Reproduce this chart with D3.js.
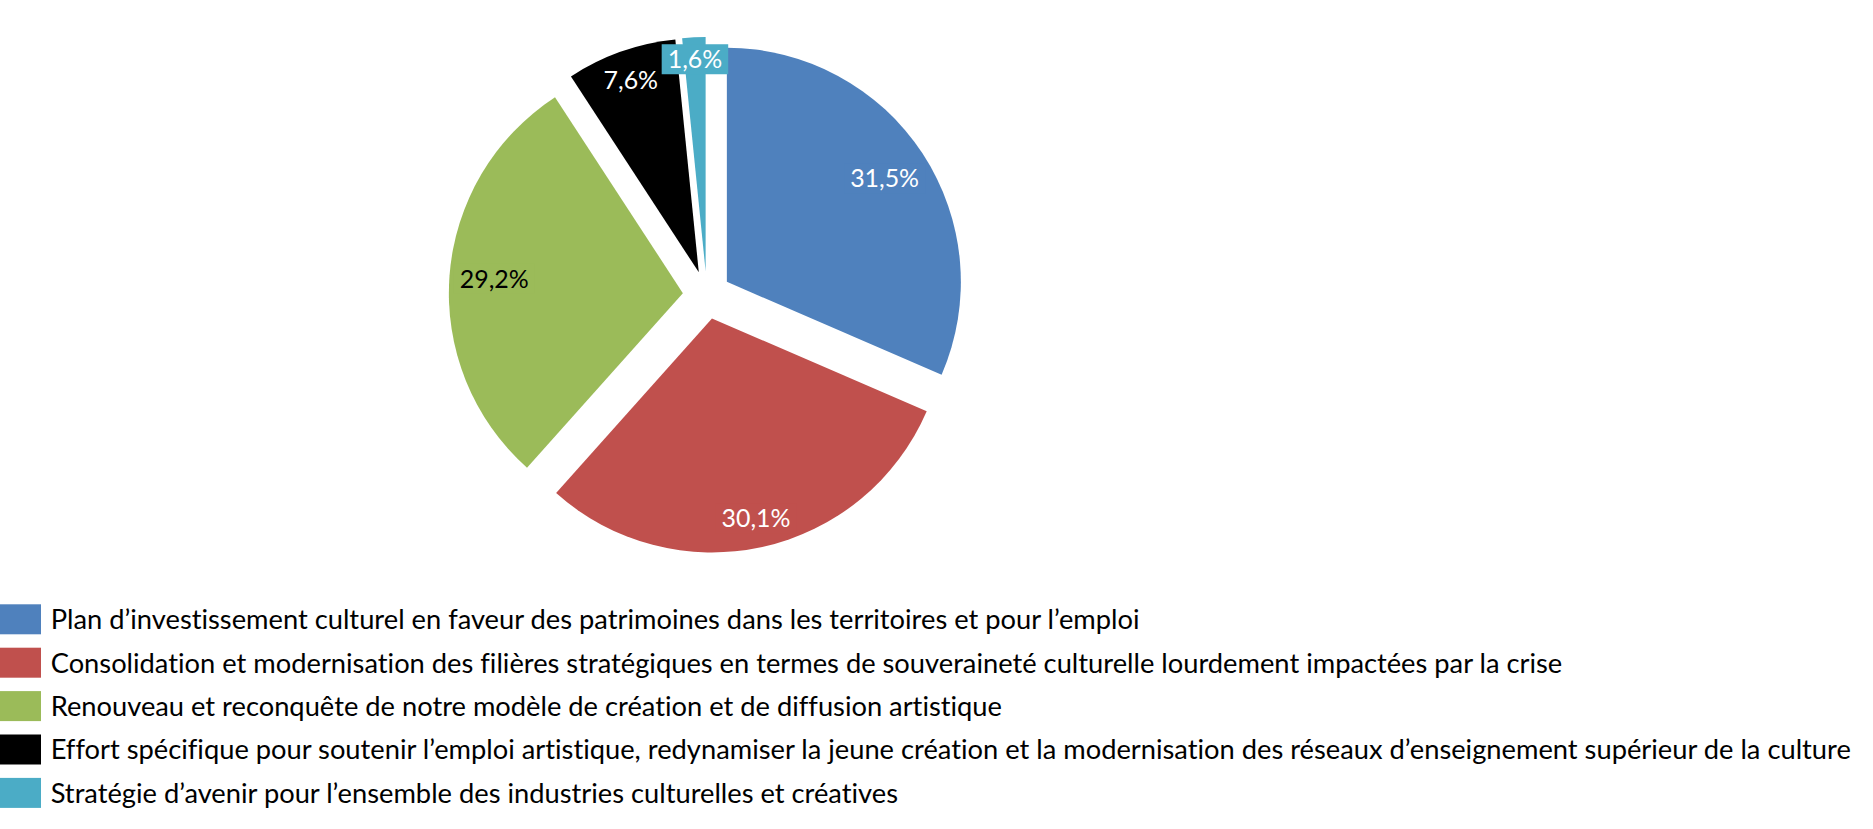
<!DOCTYPE html>
<html><head><meta charset="utf-8">
<script src="https://cdn.jsdelivr.net/npm/d3@7"></script>
<style>html,body{margin:0;padding:0;background:#fff;overflow:hidden}
text{font-variant-ligatures:none;font-feature-settings:"liga" 0,"clig" 0,"dlig" 0;}</style>
</head><body><svg id="chart" width="1873" height="829"></svg>
<script>
const categories = [
  "Plan d’investissement culturel en faveur des patrimoines dans les territoires et pour l’emploi",
  "Consolidation et modernisation des filières stratégiques en termes de souveraineté culturelle lourdement impactées par la crise",
  "Renouveau et reconquête de notre modèle de création et de diffusion artistique",
  "Effort spécifique pour soutenir l’emploi artistique, redynamiser la jeune création et la modernisation des réseaux d’enseignement supérieur de la culture",
  "Stratégie d’avenir pour l’ensemble des industries culturelles et créatives"
];
const values = [31.5, 30.1, 29.2, 7.6, 1.6];
const colors = ["#4F81BD", "#C0504D", "#9BBB59", "#000000", "#4BACC6"];
const labelColors = ["#ffffff", "#ffffff", "#000000", "#ffffff", "#ffffff"];

const W = 1873, H = 829;
const cx = 706.8, cy = 295, R = 234, explode = 24;
const fontFamily = "Lato, Carlito, Calibri, 'Open Sans', sans-serif";
const svg = d3.select("#chart");
svg.append("rect").attr("width", W).attr("height", H).attr("fill", "#fff");

const locale = d3.formatLocale({decimal: ",", thousands: " ", grouping: [3], currency: ["", "€"]});
const fmt = v => locale.format(".1f")(v) + "%";

function measure(text, size) {
  const t = svg.append("text").attr("font-family", fontFamily).attr("font-size", size).text(text);
  const w = t.node().getComputedTextLength();
  t.remove();
  return w;
}
const labelSize = 28 * 69 / measure("31,5%", 28);
const longest = categories.reduce((a, b) => measure(a, 28) > measure(b, 28) ? a : b);
const legendSize = 28 * 1801 / measure(longest, 28);

const pie = d3.pie().sort(null).value(d => d).startAngle(0).endAngle(2 * Math.PI);
const arcs = pie(values);
const arc = d3.arc().innerRadius(0).outerRadius(R);

const g = svg.append("g").attr("transform", `translate(${cx},${cy})`);
const slices = g.selectAll("g.slice").data(arcs).join("g")
  .attr("class", "slice")
  .attr("transform", d => {
    const a = (d.startAngle + d.endAngle) / 2;
    return `translate(${explode * Math.sin(a)},${-explode * Math.cos(a)})`;
  });
slices.append("path").attr("d", arc).attr("fill", (d, i) => colors[i]);

const padX = 6, boxH = 30, margin = 3;
slices.each(function (d, i) {
  const sel = d3.select(this);
  const a = (d.startAngle + d.endAngle) / 2;
  const ux = Math.sin(a), uy = -Math.cos(a);
  const txt = fmt(d.data);
  const tw = measure(txt, labelSize);
  const p = tw / 2 + padX, q = boxH / 2, M = R - margin;
  const ax = Math.abs(ux), ay = Math.abs(uy);
  const b = ax * p + ay * q;
  const t = -b + Math.sqrt(b * b - (p * p + q * q - M * M));
  const lx = ux * t, ly = uy * t;
  sel.append("rect")
    .attr("x", lx - p).attr("y", ly - q)
    .attr("width", 2 * p).attr("height", 2 * q)
    .attr("fill", colors[i]);
  sel.append("text")
    .attr("x", lx).attr("y", ly + labelSize * 0.36)
    .attr("text-anchor", "middle")
    .attr("font-family", fontFamily)
    .attr("font-size", labelSize)
    .attr("fill", labelColors[i])
    .text(txt);
});

const legendTop = 604.3, rowStep = 43.4, swW = 41, swH = 30, textX = 50.7;
const leg = svg.append("g");
const rows = leg.selectAll("g").data(categories).join("g")
  .attr("transform", (d, i) => `translate(0,${legendTop + i * rowStep})`);
rows.append("rect").attr("x", 0).attr("y", 0).attr("width", swW).attr("height", swH)
  .attr("fill", (d, i) => colors[i]);
rows.append("text")
  .attr("x", textX).attr("y", swH / 2 + legendSize * 0.36)
  .attr("font-family", fontFamily).attr("font-size", legendSize)
  .attr("fill", "#000")
  .text(d => d);
</script>
</body></html>
